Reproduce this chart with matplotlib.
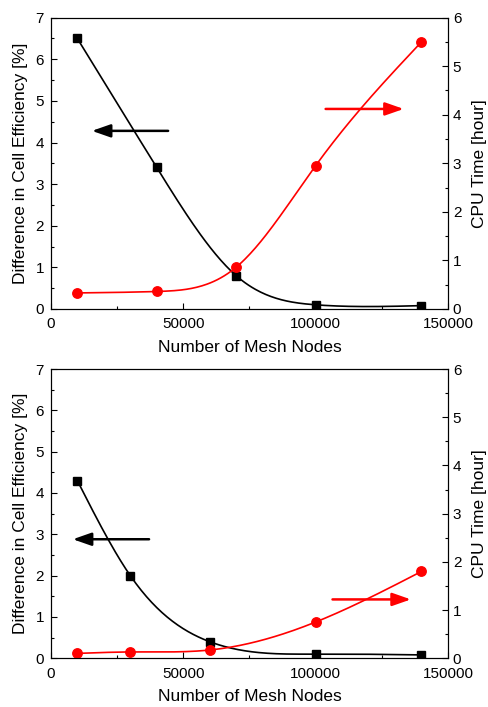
import numpy as np
import matplotlib
matplotlib.use("Agg")
import matplotlib.pyplot as plt
from matplotlib.ticker import MultipleLocator

plt.rcParams['font.family'] = ['Liberation Sans', 'DejaVu Sans']
plt.rcParams['font.size'] = 11

# top panel data
top_x = [10000, 40000, 70000, 100000, 140000]
top_diff = [6.5, 3.4, 0.8, 0.1, 0.08]
top_cpu = [0.33, 0.36, 0.86, 2.95, 5.5]

# bottom panel data
bot_x = [10000, 30000, 60000, 100000, 140000]
bot_diff = [4.3, 2.0, 0.4, 0.1, 0.08]
bot_cpu = [0.1, 0.13, 0.17, 0.75, 1.8]


def spline(x, y, n=200):
    # natural cubic spline, only used to draw the smooth connecting line
    x = np.asarray(x, float)
    y = np.asarray(y, float)
    k = len(x)
    h = np.diff(x)
    A = np.zeros((k, k))
    b = np.zeros(k)
    A[0, 0] = 1
    A[-1, -1] = 1
    for i in range(1, k - 1):
        A[i, i - 1] = h[i - 1]
        A[i, i] = 2 * (h[i - 1] + h[i])
        A[i, i + 1] = h[i]
        b[i] = 6 * ((y[i + 1] - y[i]) / h[i] - (y[i] - y[i - 1]) / h[i - 1])
    M = np.linalg.solve(A, b)
    xs = np.linspace(x[0], x[-1], n)
    ys = np.empty_like(xs)
    for j, xv in enumerate(xs):
        i = min(np.searchsorted(x, xv, side='right') - 1, k - 2)
        t1 = x[i + 1] - xv
        t0 = xv - x[i]
        ys[j] = (M[i] * t1 ** 3 + M[i + 1] * t0 ** 3) / (6 * h[i]) \
            + (y[i] / h[i] - M[i] * h[i] / 6) * t1 \
            + (y[i + 1] / h[i] - M[i + 1] * h[i] / 6) * t0
    return xs, ys


def panel(ax, x, diff, cpu, larrow, rarrow):
    ax2 = ax.twinx()
    xs, ys = spline(x, diff)
    ax.plot(xs, ys, color='black', lw=1.2)
    ax.plot(x, diff, 's', color='black', ms=6.3)
    xs, ys = spline(x, cpu)
    ax2.plot(xs, ys, color='red', lw=1.2)
    ax2.plot(x, cpu, 'o', color='red', ms=6.8)

    ax.set_xlim(0, 150000)
    ax.set_ylim(0, 7)
    ax2.set_ylim(0, 6)
    ax.xaxis.set_major_locator(MultipleLocator(50000))
    ax.xaxis.set_minor_locator(MultipleLocator(25000))
    ax.yaxis.set_major_locator(MultipleLocator(1))
    ax.yaxis.set_minor_locator(MultipleLocator(0.5))
    ax2.yaxis.set_major_locator(MultipleLocator(1))
    ax2.yaxis.set_minor_locator(MultipleLocator(0.5))
    for a in (ax, ax2):
        a.tick_params(which='both', direction='in', labelsize=11, width=0.8)
        a.tick_params(which='major', length=4)
        a.tick_params(which='minor', length=2.5)
    ax.tick_params(axis='x', which='both', pad=6)
    ax.tick_params(axis='y', which='both', pad=5)
    ax2.tick_params(axis='y', which='both', pad=3.5)
    ax.set_xlabel("Number of Mesh Nodes", fontsize=12.5, labelpad=6)
    ax.set_ylabel("Difference in Cell Efficiency [%]", fontsize=12.5, labelpad=5)
    ax2.set_ylabel("CPU Time [hour]", fontsize=12.5, labelpad=8)

    style = '-|>,head_length=0.8,head_width=0.28'
    ax.annotate('', xy=(larrow[1], larrow[2]), xytext=(larrow[0], larrow[2]),
                arrowprops=dict(arrowstyle=style, color='black', lw=1.8,
                                mutation_scale=14, shrinkA=0, shrinkB=0))
    ax2.annotate('', xy=(rarrow[1], rarrow[2]), xytext=(rarrow[0], rarrow[2]),
                 arrowprops=dict(arrowstyle=style, color='red', lw=1.8,
                                 mutation_scale=14, shrinkA=0, shrinkB=0))


fig = plt.figure(figsize=(4.89, 7.07), dpi=100)
ax_top = fig.add_axes([0.104, 0.563, 0.812, 0.412])
ax_bot = fig.add_axes([0.104, 0.069, 0.812, 0.409])

panel(ax_top, top_x, top_diff, top_cpu, (44300, 15500, 4.28), (103800, 133300, 4.12))
panel(ax_bot, bot_x, bot_diff, bot_cpu, (37100, 8300, 2.88), (106400, 136000, 1.22))

fig.savefig("out.png", dpi=100)
